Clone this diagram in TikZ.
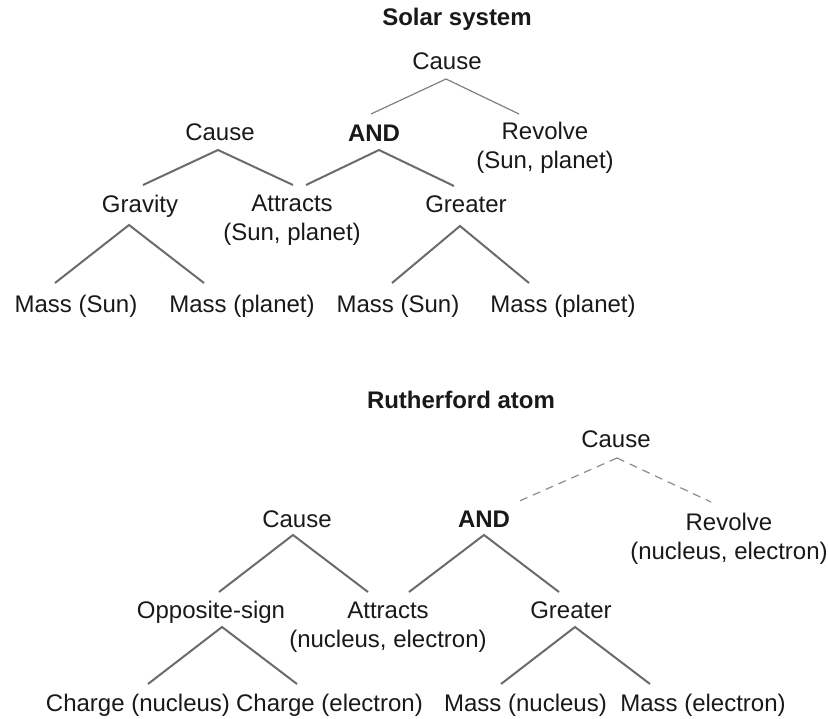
\documentclass[tikz,border=0pt]{standalone}
\usepackage{fontspec}
\setmainfont{Liberation Sans}
\begin{document}
\begin{tikzpicture}[x=1pt,y=-1pt,
  lbl/.style={inner sep=0pt, anchor=base, align=center, text=black!90,
    font=\fontsize{24}{29}\selectfont},
  head/.style={lbl, font=\fontsize{24}{29}\selectfont\bfseries},
  branch/.style={draw=black!58, line width=2pt},
  thinbranch/.style={draw=black!50, line width=1.2pt},
  dashbranch/.style={draw=black!45, line width=1.2pt, dash pattern=on 8pt off 6pt}]
\useasboundingbox (0,0) rectangle (828,719);

% ---------------- Solar system ----------------
\node[head] (sTitle) at (457,26) {Solar system};
\node[lbl]  (sCause) at (447,70) {Cause};
\node[head] (sAnd) at (374,142) {AND};
\node[lbl]  (sRev) at (545,169) {Revolve\\(Sun, planet)};
\node[lbl]  (sCauseL) at (220,141) {Cause};
\node[lbl]  (sGrav) at (140,213) {Gravity};
\node[lbl]  (sAttr) at (292,241) {Attracts\\(Sun, planet)};
\node[lbl]  (sGreat) at (466,213) {Greater};
\node[lbl]  (sM1) at (76,313) {Mass (Sun)};
\node[lbl]  (sM2) at (242,313) {Mass (planet)};
\node[lbl]  (sM3) at (398,313) {Mass (Sun)};
\node[lbl]  (sM4) at (563,313) {Mass (planet)};

\coordinate (sCauseT) at (446,79);
\coordinate (sAndB) at (371,114);
\coordinate (sRevB) at (519,114);
\draw[thinbranch] (sAndB) -- (sCauseT) -- (sRevB);

\coordinate (sCauseLT) at (218,150);
\coordinate (sGravB) at (143,185);
\coordinate (sAttrB1) at (293,185);
\draw[branch] (sGravB) -- (sCauseLT) -- (sAttrB1);

\coordinate (sAndT) at (379,150);
\coordinate (sAttrB2) at (306,185);
\coordinate (sGreatB) at (454,186);
\draw[branch] (sAttrB2) -- (sAndT) -- (sGreatB);

\coordinate (sGravT) at (129,225);
\coordinate (sM1B) at (55,283);
\coordinate (sM2B) at (204,283);
\draw[branch] (sM1B) -- (sGravT) -- (sM2B);

\coordinate (sGreatT) at (460,226);
\coordinate (sM3B) at (392,283);
\coordinate (sM4B) at (529,283);
\draw[branch] (sM3B) -- (sGreatT) -- (sM4B);

% ---------------- Rutherford atom ----------------
\node[head] (rTitle) at (461,409) {Rutherford atom};
\node[lbl]  (rCause) at (616,447) {Cause};
\node[head] (rAnd) at (484,527) {AND};
\node[lbl]  (rRev) at (729,559) {Revolve\\(nucleus, electron)};
\node[lbl]  (rCauseL) at (297,527) {Cause};
\node[lbl]  (rOpp) at (211,618) {Opposite-sign};
\node[lbl]  (rAttr) at (388,647) {Attracts\\(nucleus, electron)};
\node[lbl]  (rGreat) at (571,618) {Greater};
\node[lbl]  (rC1) at (138,711) {Charge (nucleus)};
\node[lbl]  (rC2) at (329.5,711) {Charge (electron)};
\node[lbl]  (rM1) at (525.5,711) {Mass (nucleus)};
\node[lbl]  (rM2) at (703,711) {Mass (electron)};

\coordinate (rCauseT) at (617,458);
\coordinate (rAndB) at (515,503);
\coordinate (rRevB) at (711,502);
\draw[dashbranch] (rCauseT) -- (rAndB);
\draw[dashbranch] (rCauseT) -- (rRevB);

\coordinate (rCauseLT) at (293,535);
\coordinate (rOppB) at (219,592);
\coordinate (rAttrB1) at (368,592);
\draw[branch] (rOppB) -- (rCauseLT) -- (rAttrB1);

\coordinate (rAndT) at (484,535);
\coordinate (rAttrB2) at (409,592);
\coordinate (rGreatB) at (559,592);
\draw[branch] (rAttrB2) -- (rAndT) -- (rGreatB);

\coordinate (rOppT) at (222,627);
\coordinate (rC1B) at (148,684);
\coordinate (rC2B) at (297,684);
\draw[branch] (rC1B) -- (rOppT) -- (rC2B);

\coordinate (rGreatT) at (575,627);
\coordinate (rM1B) at (501,684);
\coordinate (rM2B) at (650,684);
\draw[branch] (rM1B) -- (rGreatT) -- (rM2B);
\end{tikzpicture}
\end{document}
